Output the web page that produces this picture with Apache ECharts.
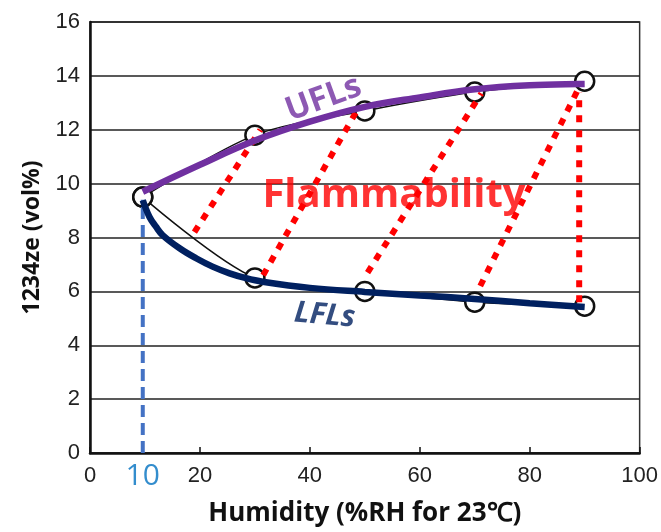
<!DOCTYPE html>
<html>
<head>
<meta charset="utf-8">
<script src="https://cdn.jsdelivr.net/npm/echarts@6/dist/echarts.min.js"></script>
<style>
html,body{margin:0;padding:0;background:#fff;}
#chart{width:661px;height:532px;}
</style>
</head>
<body>
<div id="chart"></div>
<script>
// ---- data ----
const xTicks = [0, 20, 40, 60, 80, 100];
const yTicks = [0, 2, 4, 6, 8, 10, 12, 14, 16];
const humidity = [9.6, 30, 50, 70, 90];
const uflMeasured = [9.5, 11.8, 12.7, 13.4, 13.8];
const lflMeasured = [9.5, 6.5, 6.0, 5.6, 5.45];
const uflCurveX = [9.6, 20, 30, 40, 50, 60, 70, 80, 90];
const uflCurveY = [9.7, 10.7, 11.6, 12.3, 12.85, 13.2, 13.5, 13.65, 13.7];
const lflCurveX = [9.6, 10.8, 12, 13.2, 16.3, 19.3, 22.3, 25.4, 28.4, 31.4, 40, 50, 60, 70, 80, 90];
const lflCurveY = [9.38, 8.77, 8.4, 8.09, 7.6, 7.23, 6.92, 6.67, 6.49, 6.36, 6.13, 5.98, 5.85, 5.72, 5.56, 5.42];
const tieStartX = [19, 31.5, 50.5, 71, 89];
const tieStartY = [8.2, 6.6, 6.7, 6.2, 5.6];
const tieEndX = [31, 48.8, 71.2, 88.8, 89];
const tieEndY = [12.0, 12.8, 13.35, 13.5, 13.4];
const markerX = [9.6, 9.6];
const markerY = [0, 9.4];
const markerLabel = '10';
const textLabels = ['UFLs', 'Flammability', 'LFLs'];
const textX = [42.5, 55.3, 42.7];
const textY = [13.15, 9.55, 5.1];

const zip = (xs, ys) => xs.map((x, i) => [x, ys[i]]);

const tieSeries = tieStartX.map((x, i) => ({
  type: 'line',
  data: [[x, tieStartY[i]], [tieEndX[i], tieEndY[i]]],
  symbol: 'none',
  lineStyle: { color: '#ff0000', width: 6, type: [7, 8] },
  z: 4,
  silent: true
}));

const textStyles = [
  { color: '#7030a0', fontSize: 33, fontWeight: 'bold', rotate: 20, fontStyle: 'normal' },
  { color: '#ff0000', fontSize: 40, fontWeight: 'bold', rotate: 0, fontStyle: 'normal' },
  { color: '#002060', fontSize: 30, fontWeight: 'bold', rotate: -5, fontStyle: 'italic' }
];

const chart = echarts.init(document.getElementById('chart'));
chart.setOption({
  animation: false,
  backgroundColor: '#fff',
  grid: { left: 90, right: 21, top: 22, bottom: 79, show: true, borderColor: '#333', borderWidth: 1.5, backgroundColor: 'transparent' },
  xAxis: {
    type: 'value', min: 0, max: 100, interval: 20,
    name: 'Humidity (%RH for 23℃)', nameLocation: 'middle', nameGap: 48,
    nameTextStyle: { fontFamily: 'Open Sans', fontWeight: 'bold', fontSize: 26, color: '#111' },
    axisLine: { show: true, lineStyle: { color: '#111', width: 2.5 } },
    axisTick: { show: true, inside: true, length: 6, lineStyle: { color: '#111', width: 1.5 } },
    axisLabel: { fontFamily: 'Liberation Sans', fontSize: 22, color: '#222', margin: 12 },
    splitLine: { show: false }
  },
  yAxis: {
    type: 'value', min: 0, max: 16, interval: 2,
    name: '1234ze (vol%)', nameLocation: 'middle', nameGap: 46,
    nameTextStyle: { fontFamily: 'Open Sans', fontWeight: 'bold', fontSize: 23, color: '#111' },
    axisLine: { show: true, lineStyle: { color: '#111', width: 2.5 } },
    axisTick: { show: false },
    axisLabel: { fontFamily: 'Liberation Sans', fontSize: 22, color: '#222', margin: 10 },
    splitLine: { show: true, lineStyle: { color: '#222', width: 1.5 } }
  },
  series: [
    {
      type: 'line', data: zip(humidity, uflMeasured), smooth: 0.3,
      symbol: 'circle', symbolSize: 19, showAllSymbol: true,
      itemStyle: { color: '#fff', borderColor: '#111', borderWidth: 2.5 },
      lineStyle: { color: '#111', width: 1.5 }, z: 2
    },
    {
      type: 'line', data: zip(humidity, lflMeasured), smooth: 0.3,
      symbol: 'circle', symbolSize: 19, showAllSymbol: true,
      itemStyle: { color: '#fff', borderColor: '#111', borderWidth: 2.5 },
      lineStyle: { color: '#111', width: 1.5 }, z: 2
    },
    {
      type: 'line', data: zip(markerX, markerY), symbol: 'none',
      lineStyle: { color: '#4472c4', width: 4, type: [12, 6] }, z: 3
    },
    ...tieSeries,
    {
      type: 'line', data: zip(uflCurveX, uflCurveY), smooth: 0.4, symbol: 'none',
      lineStyle: { color: '#7030a0', width: 6.5 }, z: 5
    },
    {
      type: 'line', data: zip(lflCurveX, lflCurveY), smooth: 0.4, symbol: 'none',
      lineStyle: { color: '#002060', width: 6.5 }, z: 5
    },
    {
      type: 'scatter', clip: false, z: 6, symbolSize: 1,
      itemStyle: { color: 'rgba(0,0,0,0)' },
      data: [{ value: [markerX[0], 0] }],
      label: { show: true, position: 'bottom', distance: 8, formatter: markerLabel,
        fontFamily: 'Open Sans', fontSize: 30, color: '#0070c0' }
    },
    {
      type: 'scatter', clip: false, z: 7, symbolSize: 1,
      itemStyle: { color: 'rgba(0,0,0,0)' },
      data: textLabels.map((t, i) => ({
        value: [textX[i], textY[i]], name: t,
        label: Object.assign({ show: true, position: 'inside', formatter: t, fontFamily: 'Open Sans', align: 'center', verticalAlign: 'middle' }, textStyles[i])
      }))
    }
  ]
});
</script>
</body>
</html>
